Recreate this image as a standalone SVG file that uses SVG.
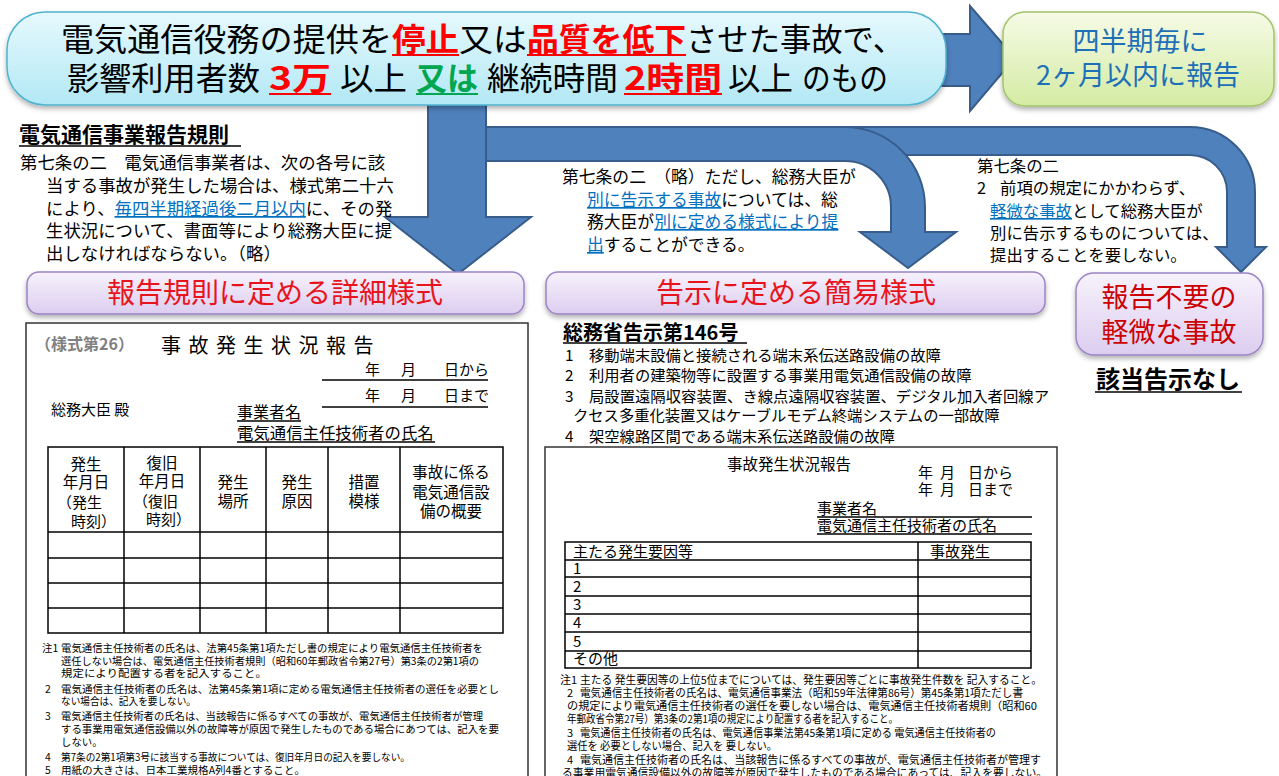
<svg xmlns="http://www.w3.org/2000/svg" width="1279" height="776" viewBox="0 0 1279 776">
<defs>
<linearGradient id="gBanner" x1="0" y1="0" x2="0" y2="1"><stop offset="0" stop-color="#e6f9fd"/><stop offset="1" stop-color="#b2e8f5"/></linearGradient>
<linearGradient id="gGreen" x1="0" y1="0" x2="0" y2="1"><stop offset="0" stop-color="#f6fbe6"/><stop offset="1" stop-color="#d4eba3"/></linearGradient>
<linearGradient id="gPurple" x1="0" y1="0" x2="0" y2="1"><stop offset="0" stop-color="#f7f2fc"/><stop offset="1" stop-color="#dccdef"/></linearGradient>
<filter id="sh" x="-10%" y="-20%" width="120%" height="150%"><feDropShadow dx="0" dy="3" stdDeviation="2.5" flood-color="#000" flood-opacity="0.3"/></filter>
<style>
text{font-family:"Noto Sans CJK JP","Noto Sans",sans-serif;fill:#000}
.arrow{fill:#4f81bd;stroke:#385d8a;stroke-width:2;stroke-linejoin:miter}
.banner{fill:url(#gBanner);stroke:#4fb3cf;stroke-width:1.5}
.green{fill:url(#gGreen);stroke:#a3c46a;stroke-width:1.5}
.purple{fill:url(#gPurple);stroke:#9a84c6;stroke-width:1.5}
.bt{font-size:32px}
.red{fill:#ff0000;font-weight:bold}
.grn{fill:#00a650;font-weight:bold}
.lbl{font-size:28px;fill:#e8141c;text-anchor:middle}
.blue{fill:#1d6fb8;font-size:27px;text-anchor:middle}
.law{font-size:17.4px}
.law2{font-size:16.8px}
.law3{font-size:16.4px}
.link{fill:#0070c0;text-decoration:underline}
.frm{fill:#fff;stroke:#333;stroke-width:1.5}
.tl{stroke:#000;stroke-width:1.5;fill:none}
.f15{font-size:15px}
.h15{font-size:15.5px;text-anchor:middle}
.n10{font-size:10.4px}
.n11{font-size:11px}
.it{font-size:15.3px}
.ul{stroke:#000;stroke-width:1.5}
</style>
</defs>

<g id="connectors">
<path class="arrow" d="M486,127 L1190,127 A65,65 0 0 1 1255,192 L1255,247 L1266,247 L1241,272 L1216,247 L1227,247 L1227,192 A37,37 0 0 0 1190,155 L486,155 Z"/>
<path class="arrow" d="M486,127 L845,127 A80,80 0 0 1 925,207 L925,232 L956,232 L908,268 L860,232 L891,232 L891,207 A46,46 0 0 0 845,161 L486,161 Z"/>
<path class="arrow" d="M428,100 L486,100 L486,217 L531,217 L458,274 L385,217 L428,217 Z"/>
<path class="arrow" d="M930,34 L970,34 L970,6 L1015,58 L970,111 L970,86 L930,86 Z"/>
</g>

<g id="banner">
<rect class="banner" x="7" y="12" width="939" height="93" rx="38" filter="url(#sh)"/>
<text class="bt" x="61" y="51" textLength="331" lengthAdjust="spacingAndGlyphs">電気通信役務の提供を</text>
<text class="bt red" x="392" y="51" textLength="67" lengthAdjust="spacingAndGlyphs">停止</text>
<text class="bt" x="459" y="51" textLength="68" lengthAdjust="spacingAndGlyphs">又は</text>
<text class="bt red" x="527" y="51" textLength="159" lengthAdjust="spacingAndGlyphs">品質を低下</text>
<text class="bt" x="686" y="51" textLength="218" lengthAdjust="spacingAndGlyphs">させた事故で、</text>
<line x1="392" y1="55" x2="459" y2="55" stroke="#ff0000" stroke-width="2"/>
<line x1="527" y1="55" x2="686" y2="55" stroke="#ff0000" stroke-width="2"/>
<text class="bt" x="67" y="90" textLength="193" lengthAdjust="spacingAndGlyphs">影響利用者数</text>
<text class="bt red" x="269" y="90" textLength="62" lengthAdjust="spacingAndGlyphs">3万</text>
<text class="bt" x="340" y="90" textLength="67" lengthAdjust="spacingAndGlyphs">以上</text>
<text class="bt grn" x="416" y="90" textLength="62" lengthAdjust="spacingAndGlyphs">又は</text>
<text class="bt" x="487" y="90" textLength="131" lengthAdjust="spacingAndGlyphs">継続時間</text>
<text class="bt red" x="624" y="90" textLength="98" lengthAdjust="spacingAndGlyphs">2時間</text>
<text class="bt" x="728" y="90" textLength="65" lengthAdjust="spacingAndGlyphs">以上</text>
<text class="bt" x="802" y="90" textLength="86" lengthAdjust="spacingAndGlyphs">のもの</text>
<line x1="269" y1="94" x2="331" y2="94" stroke="#ff0000" stroke-width="2"/>
<line x1="416" y1="94" x2="478" y2="94" stroke="#00a650" stroke-width="2"/>
<line x1="624" y1="94" x2="722" y2="94" stroke="#ff0000" stroke-width="2"/>
</g>

<g id="quarterly">
<rect class="green" x="1003" y="12" width="271" height="94" rx="22" filter="url(#sh)"/>
<text class="blue" x="1140" y="51">四半期毎に</text>
<text class="blue" x="1138" y="85">2ヶ月以内に報告</text>
</g>

<g id="rule-text">
<text x="19" y="142" font-size="21" font-weight="bold">電気通信事業報告規則</text>
<line class="ul" x1="19" y1="146" x2="241" y2="146" stroke-width="2"/>
<text class="law" x="20" y="169">第七条の二　電気通信事業者は、次の各号に該</text>
<text class="law" x="46" y="192">当する事故が発生した場合は、様式第二十六</text>
<text class="law" x="46" y="215">により、<tspan class="link">毎四半期経過後二月以内</tspan>に、その発</text>
<text class="law" x="46" y="237">生状況について、書面等により総務大臣に提</text>
<text class="law" x="46" y="260">出しなければならない。（略）</text>
</g>

<g id="proviso-text">
<text class="law2" x="562" y="183">第七条の二　（略）ただし、総務大臣が</text>
<text class="law2" x="587" y="206"><tspan class="link">別に告示する事故</tspan>については、総</text>
<text class="law2" x="587" y="228">務大臣が<tspan class="link">別に定める様式により提</tspan></text>
<text class="law2" x="587" y="251"><tspan class="link">出</tspan>することができる。</text>
</g>

<g id="exempt-text">
<text class="law3" x="977" y="172">第七条の二</text>
<text class="law3" x="977" y="194">2</text>
<text class="law3" x="1000" y="194">前項の規定にかかわらず、</text>
<text class="law3" x="990" y="217"><tspan class="link">軽微な事故</tspan>として総務大臣が</text>
<text class="law3" x="990" y="239">別に告示するものについては、</text>
<text class="law3" x="990" y="261">提出することを要しない。</text>
</g>

<g id="detail-format">
<rect class="purple" x="27" y="272" width="497" height="42" rx="12" filter="url(#sh)"/>
<text class="lbl" x="275" y="303">報告規則に定める詳細様式</text>
</g>

<g id="simple-format">
<rect class="purple" x="546" y="272" width="499" height="42" rx="12" filter="url(#sh)"/>
<text class="lbl" x="796" y="303">告示に定める簡易様式</text>
</g>

<g id="minor-accident">
<rect class="purple" x="1076" y="273" width="187" height="82" rx="18" filter="url(#sh)"/>
<text x="1169" y="307" font-size="27" text-anchor="middle" style="fill:#cc0000">報告不要の</text>
<text x="1169" y="342" font-size="27" text-anchor="middle" style="fill:#cc0000">軽微な事故</text>
<text x="1168" y="388" font-size="24" font-weight="bold" text-anchor="middle">該当告示なし</text>
<line class="ul" x1="1095" y1="392" x2="1242" y2="392" stroke-width="2"/>
</g>

<g id="form26">
<rect class="frm" x="26" y="323" width="502" height="470"/>
<text x="35" y="350" font-size="16" font-weight="bold" style="fill:#808080">（様式第26）</text>
<text x="161" y="353" font-size="20" letter-spacing="7.5">事故発生状況報告</text>
<text class="f15" x="365" y="375">年</text><text class="f15" x="401" y="375">月</text><text class="f15" x="444" y="375">日から</text>
<line class="ul" x1="322" y1="380" x2="488" y2="380"/>
<text class="f15" x="365" y="401">年</text><text class="f15" x="401" y="401">月</text><text class="f15" x="444" y="401">日まで</text>
<line class="ul" x1="322" y1="407" x2="488" y2="407"/>
<text class="f15" x="51" y="415">総務大臣 殿</text>
<text x="237" y="418" font-size="16">事業者名</text>
<line class="ul" x1="237" y1="421" x2="301" y2="421" stroke-width="1.2"/>
<text x="237" y="439" font-size="16.4">電気通信主任技術者の氏名</text>
<line class="ul" x1="237" y1="442" x2="435" y2="442" stroke-width="1.2"/>
<g class="tl">
<rect x="48" y="447" width="455" height="186"/>
<line x1="48" y1="532" x2="503" y2="532"/><line x1="48" y1="558" x2="503" y2="558"/><line x1="48" y1="583" x2="503" y2="583"/><line x1="48" y1="608" x2="503" y2="608"/>
<line x1="124" y1="447" x2="124" y2="633"/><line x1="200" y1="447" x2="200" y2="633"/><line x1="266" y1="447" x2="266" y2="633"/><line x1="328" y1="447" x2="328" y2="633"/><line x1="400" y1="447" x2="400" y2="633"/>
</g>
<text class="h15" x="86" y="470">発生</text><text class="h15" x="86" y="488">年月日</text><text class="f15" x="57" y="508">（発生</text><text class="f15" x="71" y="527">時刻）</text>
<text class="h15" x="162" y="469">復旧</text><text class="h15" x="162" y="487">年月日</text><text class="f15" x="133" y="507">（復旧</text><text class="f15" x="146" y="525">時刻）</text>
<text class="h15" x="233" y="488">発生</text><text class="h15" x="233" y="507">場所</text>
<text class="h15" x="297" y="488">発生</text><text class="h15" x="297" y="507">原因</text>
<text class="h15" x="364" y="488">措置</text><text class="h15" x="364" y="507">模様</text>
<text class="h15" x="451" y="478">事故に係る</text><text class="h15" x="451" y="498">電気通信設</text><text class="h15" x="451" y="517">備の概要</text>
<text class="n10" x="42" y="652">注1</text>
<text class="n10" x="61" y="652" textLength="422" lengthAdjust="spacingAndGlyphs">電気通信主任技術者の氏名は、法第45条第1項ただし書の規定により電気通信主任技術者を</text>
<text class="n10" x="61" y="665" textLength="418" lengthAdjust="spacingAndGlyphs">選任しない場合は、電気通信主任技術者規則（昭和60年郵政省令第27号）第3条の2第1項の</text>
<text class="n10" x="61" y="677" textLength="206" lengthAdjust="spacingAndGlyphs">規定により配置する者を記入すること。</text>
<text class="n10" x="45" y="693">2</text>
<text class="n10" x="61" y="693" textLength="438" lengthAdjust="spacingAndGlyphs">電気通信主任技術者の氏名は、法第45条第1項に定める電気通信主任技術者の選任を必要とし</text>
<text class="n10" x="61" y="705" textLength="135" lengthAdjust="spacingAndGlyphs">ない場合は、記入を要しない。</text>
<text class="n10" x="45" y="720">3</text>
<text class="n10" x="61" y="720" textLength="422" lengthAdjust="spacingAndGlyphs">電気通信主任技術者の氏名は、当該報告に係るすべての事故が、電気通信主任技術者が管理</text>
<text class="n10" x="61" y="733" textLength="438" lengthAdjust="spacingAndGlyphs">する事業用電気通信設備以外の故障等が原因で発生したものである場合にあつては、記入を要</text>
<text class="n10" x="61" y="746">しない。</text>
<text class="n10" x="45" y="761">4</text>
<text class="n10" x="61" y="761" textLength="349" lengthAdjust="spacingAndGlyphs">第7条の2第1項第3号に該当する事故については、復旧年月日の記入を要しない。</text>
<text class="n10" x="45" y="774">5</text>
<text class="n10" x="61" y="774" textLength="244" lengthAdjust="spacingAndGlyphs">用紙の大きさは、日本工業規格A列4番とすること。</text>
</g>

<g id="notice146">
<text x="563" y="340" font-size="20" font-weight="bold">総務省告示第146号</text>
<line class="ul" x1="563" y1="343" x2="747" y2="343" stroke-width="2"/>
<text class="it" x="565" y="361">1</text><text class="it" x="589" y="361">移動端末設備と接続される端末系伝送路設備の故障</text>
<text class="it" x="565" y="381">2</text><text class="it" x="589" y="381">利用者の建築物等に設置する事業用電気通信設備の故障</text>
<text class="it" x="565" y="402">3</text><text class="it" x="589" y="402" textLength="460" lengthAdjust="spacingAndGlyphs">局設置遠隔収容装置、き線点遠隔収容装置、デジタル加入者回線ア</text>
<text class="it" x="573" y="421">クセス多重化装置又はケーブルモデム終端システムの一部故障</text>
<text class="it" x="565" y="442">4</text><text class="it" x="589" y="442">架空線路区間である端末系伝送路設備の故障</text>
</g>

<g id="simple-form">
<rect class="frm" x="545" y="447" width="512" height="340"/>
<text x="727" y="470" font-size="15.5">事故発生状況報告</text>
<text class="f15" x="918" y="478">年</text><text class="f15" x="940" y="478">月</text><text class="f15" x="968" y="478">日から</text>
<text class="f15" x="918" y="495">年</text><text class="f15" x="940" y="495">月</text><text class="f15" x="968" y="495">日まで</text>
<text class="f15" x="817" y="514">事業者名</text>
<line class="ul" x1="817" y1="517" x2="1032" y2="517" stroke-width="1.8"/>
<text class="f15" x="817" y="531">電気通信主任技術者の氏名</text>
<line class="ul" x1="817" y1="534" x2="1032" y2="534" stroke-width="1.8"/>
<g class="tl">
<rect x="565" y="542" width="466" height="126"/>
<line x1="918" y1="542" x2="918" y2="668"/>
<line x1="565" y1="560" x2="1031" y2="560"/><line x1="565" y1="577" x2="1031" y2="577"/><line x1="565" y1="596" x2="1031" y2="596"/><line x1="565" y1="614" x2="1031" y2="614"/><line x1="565" y1="632" x2="1031" y2="632"/><line x1="565" y1="651" x2="1031" y2="651"/>
</g>
<text class="f15" x="573" y="557">主たる発生要因等</text><text class="f15" x="930" y="557">事故発生</text>
<text class="f15" x="573" y="574">1</text><text class="f15" x="573" y="592">2</text><text class="f15" x="573" y="610">3</text><text class="f15" x="573" y="628">4</text><text class="f15" x="573" y="647">5</text><text class="f15" x="573" y="664">その他</text>
<text class="n11" x="560" y="684">注1</text>
<text class="n11" x="580" y="684" textLength="462" lengthAdjust="spacingAndGlyphs">主たる 発生要因等の上位5位までについては、発生要因等ごとに事故発生件数を 記入すること。</text>
<text class="n11" x="567" y="697">2</text>
<text class="n11" x="580" y="697" textLength="443" lengthAdjust="spacingAndGlyphs">電気通信主任技術者の氏名は、電気通信事業法（昭和59年法律第86号）第45条第1項ただし書</text>
<text class="n11" x="567" y="710" textLength="470" lengthAdjust="spacingAndGlyphs">の規定により電気通信主任技術者の選任を要しない場合は、電気通信主任技術者規則（昭和60</text>
<text class="n11" x="567" y="723" textLength="331" lengthAdjust="spacingAndGlyphs">年郵政省令第27号）第3条の2第1項の規定により配置する者を記入すること。</text>
<text class="n11" x="567" y="737">3</text>
<text class="n11" x="580" y="737" textLength="416" lengthAdjust="spacingAndGlyphs">電気通信主任技術者の氏名は、電気通信事業法第45条第1項に定める 電気通信主任技術者の</text>
<text class="n11" x="567" y="750" textLength="210" lengthAdjust="spacingAndGlyphs">選任を 必要としない場合、記入を 要しない。</text>
<text class="n11" x="567" y="764">4</text>
<text class="n11" x="580" y="764" textLength="461" lengthAdjust="spacingAndGlyphs">電気通信主任技術者の氏名は、当該報告に係るすべての事故が、電気通信主任技術者が管理す</text>
<text class="n11" x="562" y="777" textLength="485" lengthAdjust="spacingAndGlyphs">る事業用電気通信設備以外の故障等が原因で発生したものである場合にあっては、記入を要しない。</text>
</g>
</svg>
